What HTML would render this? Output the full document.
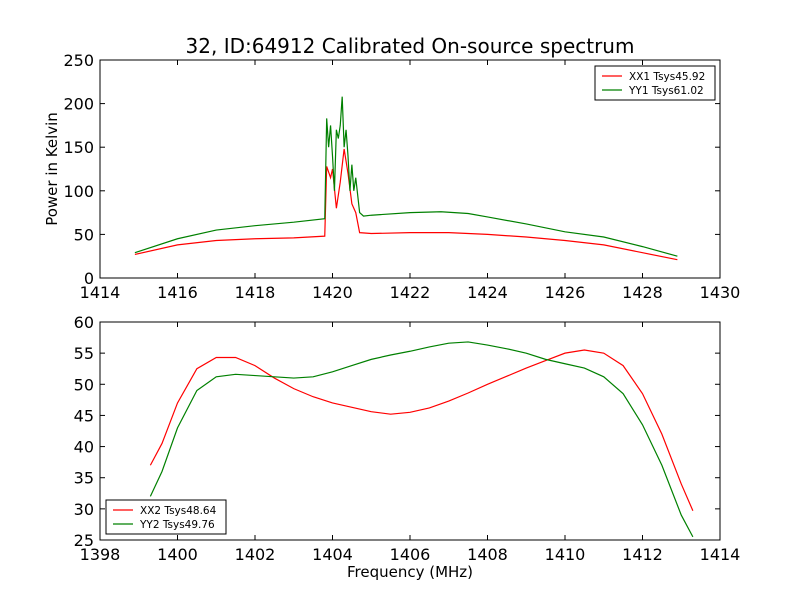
<!DOCTYPE html>
<html><head><meta charset="utf-8"><style>
body{margin:0;background:#fff}
svg{font-family:"DejaVu Sans","Liberation Sans",sans-serif}
</style></head><body>
<svg id="c" width="800" height="600" viewBox="0 0 800 600">
<rect width="800" height="600" fill="#fff"/>
<text x="410" y="53" font-size="20" text-anchor="middle">32, ID:64912 Calibrated On-source spectrum</text>
<text x="0" y="0" font-size="15" text-anchor="middle" transform="translate(57,169) rotate(-90)">Power in Kelvin</text>
<text x="410" y="577" font-size="15" text-anchor="middle">Frequency (MHz)</text>
</svg>
<script>
const topX1=[1414.9,1416,1417,1418,1419,1419.8,1419.85,1419.95,1420.0,1420.1,1420.2,1420.3,1420.4,1420.5,1420.6,1420.7,1421,1422,1423,1424,1425,1426,1427,1428,1428.9];
const topXX1=[27,38,43,45,46,48,128,115,125,80,110,148,120,85,75,52,51,52,52,50,47,43,38,29,21];
const topX2=[1414.9,1416,1417,1418,1419,1419.8,1419.85,1419.9,1419.95,1420.0,1420.05,1420.1,1420.15,1420.2,1420.25,1420.3,1420.35,1420.4,1420.45,1420.5,1420.55,1420.6,1420.7,1420.8,1421,1422,1422.8,1423.5,1424,1425,1426,1427,1428,1428.9];
const topYY1=[29,45,55,60,64,68,183,150,175,140,100,170,160,175,208,150,170,140,100,130,100,115,75,71,72,75,76,74,70,62,53,47,36,25];
const botX=[1399.3,1399.6,1400,1400.5,1401,1401.5,1402,1402.5,1403,1403.5,1404,1404.5,1405,1405.5,1406,1406.5,1407,1407.5,1408,1408.5,1409,1409.5,1410,1410.5,1411,1411.5,1412,1412.5,1413,1413.3];
const botXX2=[37,40.5,47,52.5,54.3,54.3,53,51,49.3,48,47,46.3,45.6,45.2,45.5,46.2,47.3,48.6,50,51.3,52.6,53.8,55,55.5,55,53,48.5,42,34,29.7];
const botYY2=[32,36,43,49,51.2,51.6,51.4,51.2,51,51.2,52,53,54,54.7,55.3,56,56.6,56.8,56.3,55.7,55,54,53.3,52.6,51.2,48.5,43.5,37,29,25.5];
const topXTicks=[1414,1416,1418,1420,1422,1424,1426,1428,1430];
const topYTicks=[0,50,100,150,200,250];
const botXTicks=[1398,1400,1402,1404,1406,1408,1410,1412,1414];
const botYTicks=[25,30,35,40,45,50,55,60];
const NS="http://www.w3.org/2000/svg",svg=document.getElementById('c');
function mk(t,a){const e=document.createElementNS(NS,t);for(const k in a)e.setAttribute(k,a[k]);svg.appendChild(e);return e;}
function panel(name,L,R,T,B,x0,x1,y0,y1,xt,yt,series,leg){
 const sx=v=>L+(v-x0)/(x1-x0)*(R-L), sy=v=>B-(v-y0)/(y1-y0)*(B-T);
 series.forEach(s=>{const p=mk('polyline',{points:s.x.map((v,i)=>sx(v)+','+sy(s.y[i])).join(' '),fill:'none',stroke:s.c,'stroke-width':1.2});
  
  });
 const f=mk('rect',{x:L,y:T,width:R-L,height:B-T,fill:'none',stroke:'#000'});
 
 
 xt.forEach(v=>{const x=sx(v);mk('line',{x1:x,x2:x,y1:B,y2:B-5,stroke:'#000'});mk('line',{x1:x,x2:x,y1:T,y2:T+5,stroke:'#000'});
  const t=mk('text',{x:x,y:B+20,'font-size':16,'text-anchor':'middle'});t.textContent=v;
  
  });
 yt.forEach(v=>{const y=sy(v);mk('line',{x1:L,x2:L+5,y1:y,y2:y,stroke:'#000'});mk('line',{x1:R,x2:R-5,y1:y,y2:y,stroke:'#000'});
  const t=mk('text',{x:L-6,y:y+6,'font-size':16,'text-anchor':'end'});t.textContent=v;
  
  });
 const lb=mk('rect',{x:leg.x,y:leg.y,width:120,height:34,fill:'#fff',stroke:'#000'});
 
 
 series.forEach((s,i)=>{const y=leg.y+10+i*14;mk('line',{x1:leg.x+7,x2:leg.x+27,y1:y,y2:y,stroke:s.c,'stroke-width':1.2});
  const t=mk('text',{x:leg.x+34,y:y+4,'font-size':10.5});t.textContent=s.label;
  
  });
}
panel('top-panel',100,720,60,278,1414,1430,0,250,topXTicks,topYTicks,
 [{x:topX1,y:topXX1,c:'#f00',n:'xx1-line',label:'XX1 Tsys45.92'},{x:topX2,y:topYY1,c:'#008000',n:'yy1-line',label:'YY1 Tsys61.02'}],{x:595,y:66});
panel('bottom-panel',100,720,322,540,1398,1414,25,60,botXTicks,botYTicks,
 [{x:botX,y:botXX2,c:'#f00',n:'xx2-line',label:'XX2 Tsys48.64'},{x:botX,y:botYY2,c:'#008000',n:'yy2-line',label:'YY2 Tsys49.76'}],{x:106,y:500});
</script>
</body></html>
